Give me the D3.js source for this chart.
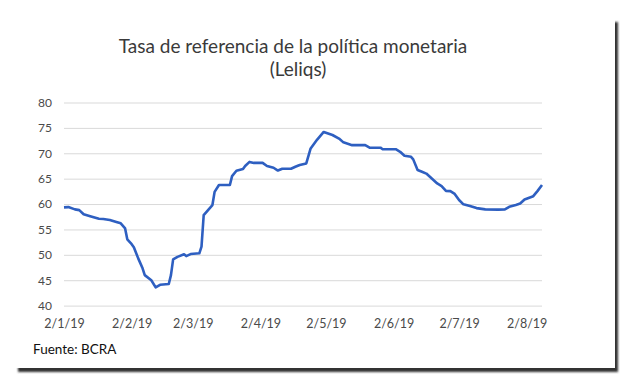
<!DOCTYPE html>
<html>
<head>
    <meta charset="utf-8">
    <title>Tasa de referencia de la política monetaria</title>
    <script src="https://d3js.org/d3.v7.min.js"></script>
    <style>
        body {
            margin: 0;
            background: #fff;
            font-family: Lato, "Open Sans", sans-serif;
            overflow: hidden;
        }
        .grid line {
            stroke: #d9d9d9;
            stroke-width: 1px;
        }
        .axis text {
            fill: #4a4a4a;
            font-family: Lato, sans-serif;
        }
        .rate {
            fill: none;
            stroke: #2e5fc1;
            stroke-width: 2.6px;
            stroke-linejoin: round;
        }
    </style>
</head>
<body>
    <svg width="630" height="385">
        <defs>
            <filter id="sombra" x="-5%" y="-5%" width="110%" height="110%">
                <feGaussianBlur stdDeviation="1.2"></feGaussianBlur>
            </filter>
        </defs>
    </svg>

    <script>
    // fechas y tasa
    const fechas = [
        "2019-01-02", "2019-01-04", "2019-01-07", "2019-01-09", "2019-01-11", "2019-01-14",
        "2019-01-18", "2019-01-20", "2019-01-23", "2019-01-26", "2019-01-28", "2019-01-30",
        "2019-01-31", "2019-02-02", "2019-02-03", "2019-02-05", "2019-02-07", "2019-02-08",
        "2019-02-11", "2019-02-13", "2019-02-15", "2019-02-19", "2019-02-20", "2019-02-21",
        "2019-02-23", "2019-02-26", "2019-02-27", "2019-03-01", "2019-03-05", "2019-03-06",
        "2019-03-07", "2019-03-09", "2019-03-11", "2019-03-12", "2019-03-14", "2019-03-19",
        "2019-03-20", "2019-03-22", "2019-03-25", "2019-03-26", "2019-03-28", "2019-03-30",
        "2019-04-03", "2019-04-05", "2019-04-08", "2019-04-10", "2019-04-12", "2019-04-16",
        "2019-04-18", "2019-04-20", "2019-04-23", "2019-04-25", "2019-04-28", "2019-05-01",
        "2019-05-05", "2019-05-08", "2019-05-10", "2019-05-14", "2019-05-20", "2019-05-22",
        "2019-05-27", "2019-05-28", "2019-06-03", "2019-06-05", "2019-06-07", "2019-06-10",
        "2019-06-11", "2019-06-13", "2019-06-15", "2019-06-17", "2019-06-20", "2019-06-22",
        "2019-06-24", "2019-06-26", "2019-06-28", "2019-06-30", "2019-07-02", "2019-07-04",
        "2019-07-07", "2019-07-10", "2019-07-14", "2019-07-20", "2019-07-23", "2019-07-25",
        "2019-07-28", "2019-07-30", "2019-08-01", "2019-08-05", "2019-08-07", "2019-08-09"
    ];
    const tasa = [
        59.35, 59.4, 58.95, 58.8, 58.0, 57.6,
        57.1, 57.05, 56.85, 56.45, 56.2, 55.2,
        53.05, 52.1, 51.5, 49.3, 47.35, 46.0,
        45.0, 43.6, 44.1, 44.25, 46.0, 49.1,
        49.6, 50.1, 49.75, 50.15, 50.3, 51.6,
        57.8, 58.8, 59.8, 62.4, 63.75, 63.75,
        65.5, 66.55, 66.9, 67.5, 68.3, 68.1,
        68.1, 67.5, 67.15, 66.6, 66.95, 66.95,
        67.35, 67.7, 68.0, 70.95, 72.7, 74.2,
        73.6, 72.9, 72.15, 71.6, 71.6, 71.1,
        71.1, 70.8, 70.8, 70.3, 69.5, 69.3,
        68.8, 66.7, 66.35, 66.0, 64.85, 64.05,
        63.55, 62.6, 62.55, 62.0, 60.8, 59.95,
        59.6, 59.2, 58.95, 58.9, 58.95, 59.45,
        59.8, 60.1, 60.9, 61.55, 62.6, 63.75
    ];
    const ticksX = ["2019-01-02", "2019-02-02", "2019-03-02", "2019-04-02",
                    "2019-05-02", "2019-06-02", "2019-07-02", "2019-08-02"];
    const ticksY = [40, 45, 50, 55, 60, 65, 70, 75, 80];

    const parse = d3.timeParse("%Y-%m-%d");
    const datos = fechas.map((f, i) => ({ fecha: parse(f), valor: tasa[i] }));

    let svg = d3.select("svg");

    // marco con sombra
    svg.append("rect")
        .attr("x", 18).attr("y", 22)
        .attr("width", 600).attr("height", 350)
        .attr("fill", "#333")
        .attr("filter", "url(#sombra)");
    svg.append("rect")
        .attr("x", 14).attr("y", 18)
        .attr("width", 601).attr("height", 350)
        .attr("fill", "#fff");

    let x = d3.scaleTime()
        .domain([parse("2019-01-02"), parse("2019-08-09")])
        .range([64, 542]);
    let y = d3.scaleLinear()
        .domain([40, 80])
        .range([305.6, 102.5]);

    // grilla y eje Y
    let gy = svg.append("g")
        .attr("class", "axis grid")
        .attr("transform", "translate(64,0)")
        .call(d3.axisLeft(y)
            .tickValues(ticksY)
            .tickSize(-(542 - 64))
            .tickPadding(12));
    gy.select(".domain").remove();
    gy.selectAll("text").style("font-size", "12px");

    // eje X
    let gx = svg.append("g")
        .attr("class", "axis")
        .attr("transform", "translate(0,315)")
        .call(d3.axisBottom(x)
            .tickValues(ticksX.map(parse))
            .tickFormat(d3.timeFormat("%-d/%-m/%y"))
            .tickSize(0)
            .tickPadding(4));
    gx.select(".domain").remove();
    gx.selectAll("text").style("font-size", "12.5px");

    // línea
    svg.append("path")
        .datum(datos)
        .attr("class", "rate")
        .attr("d", d3.line()
            .x(d => x(d.fecha))
            .y(d => y(d.valor)));

    // título
    svg.append("text")
        .attr("x", 293).attr("y", 53)
        .attr("text-anchor", "middle")
        .attr("fill", "#3a3a3a")
        .style("font-size", "19px")
        .text("Tasa de referencia de la política monetaria");
    svg.append("text")
        .attr("x", 298).attr("y", 76)
        .attr("text-anchor", "middle")
        .attr("fill", "#3a3a3a")
        .style("font-size", "19px")
        .text("(Leliqs)");

    // fuente
    svg.append("text")
        .attr("x", 33).attr("y", 354)
        .attr("fill", "#111")
        .style("font-size", "13.5px")
        .text("Fuente: BCRA");
    </script>
</body>
</html>
